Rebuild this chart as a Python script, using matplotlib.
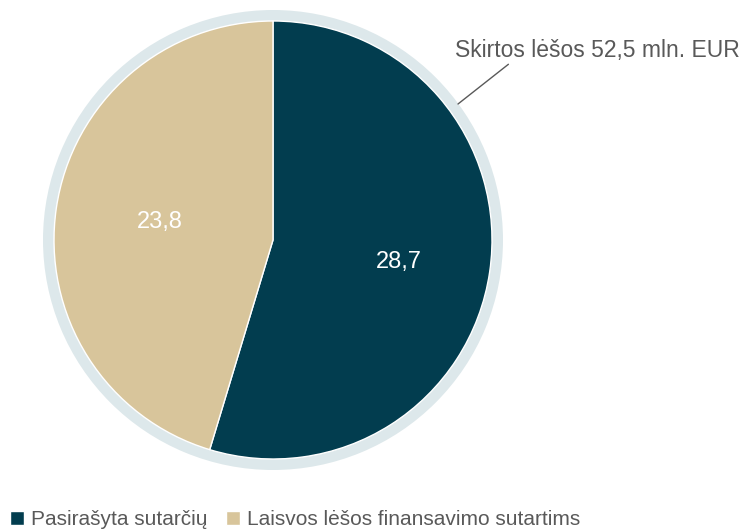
import matplotlib.pyplot as plt

# data
labels = ["Pasirašyta sutarčių", "Laisvos lėšos finansavimo sutartims"]
values = [28.7, 23.8]
total_label = "Skirtos lėšos 52,5 mln. EUR"
colors = ["#023d4f", "#d8c59b"]
ring_color = "#dde8eb"
text_grey = "#595959"

plt.rcParams['font.family'] = ['Liberation Sans', 'DejaVu Sans']

fig = plt.figure(figsize=(7.47, 5.31), dpi=100)
ax = fig.add_axes([0, 0, 1, 1])

cx, cy = 273, 291

# outer ring = total
ax.pie([sum(values)], colors=[ring_color], radius=230, center=(cx, cy),
       startangle=90, frame=True)
wedges, _ = ax.pie(values, colors=colors, radius=219, center=(cx, cy),
                   startangle=90, counterclock=False, frame=True,
                   wedgeprops=dict(edgecolor="white", linewidth=1))
ax.set_xlim(0, 747)
ax.set_ylim(0, 531)
ax.set_aspect("equal")
ax.axis("off")

# value labels
ax.text(399, 269, f"{values[0]:.1f}".replace(".", ","), color="white",
        fontsize=17, ha="center", va="center")
ax.text(160, 309, f"{values[1]:.1f}".replace(".", ","), color="white",
        fontsize=17, ha="center", va="center")

# total annotation
ax.annotate(total_label, xy=(458, 427), xytext=(455, 481),
            fontsize=16.5, color=text_grey, ha="left", va="center",
            arrowprops=dict(arrowstyle="-", color=text_grey, lw=1,
                            shrinkA=0, shrinkB=0, relpos=(0.2, 0)))

# legend
leg = ax.legend(wedges, labels, loc="lower left", bbox_to_anchor=(-0.012, -0.032),
                ncol=2, frameon=False, fontsize=15, handlelength=0.7,
                handleheight=0.7, handletextpad=0.3, columnspacing=0.9,
                labelcolor=text_grey)

fig.savefig("out.png", dpi=100)
